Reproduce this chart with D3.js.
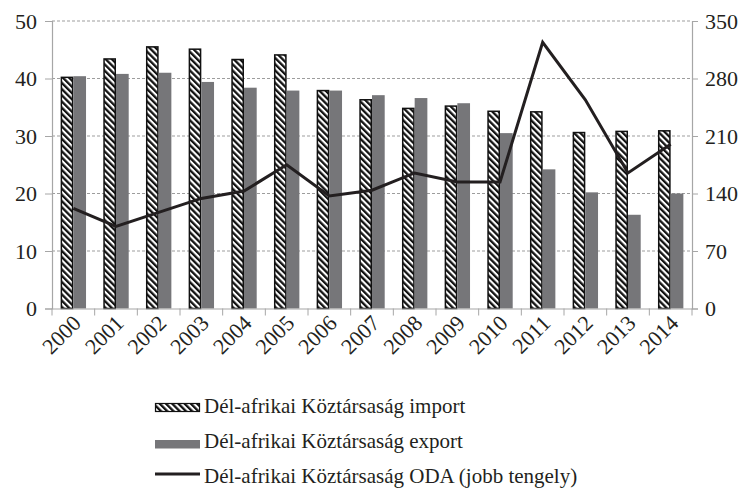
<!DOCTYPE html>
<html>
<head>
<meta charset="utf-8">
<script src="https://cdn.jsdelivr.net/npm/d3@7"></script>
<style>
  text { font-family: "Liberation Serif", Tinos, "Times New Roman", serif !important; }
</style>
</head>
<body style="margin:0">
<script>
var years = ["2000","2001","2002","2003","2004","2005","2006","2007","2008","2009","2010","2011","2012","2013","2014"];
var importVals = [40.2, 43.4, 45.5, 45.1, 43.3, 44.1, 37.9, 36.3, 34.8, 35.2, 34.3, 34.2, 30.6, 30.8, 30.9];
var exportVals = [40.4, 40.8, 41.0, 39.4, 38.4, 37.9, 37.9, 37.1, 36.6, 35.7, 30.5, 24.2, 20.2, 16.3, 20.0];
var odaVals = [122, 100, 117, 134, 143, 175, 137, 144, 165, 154, 154, 324, 254, 165, 200];
var leftTicks = [0, 10, 20, 30, 40, 50];
var rightTicks = [0, 70, 140, 210, 280, 350];
var legendLabels = ["Dél-afrikai Köztársaság import", "Dél-afrikai Köztársaság export", "Dél-afrikai Köztársaság ODA (jobb tengely)"];

var W = 745, H = 491;
var plotL = 52, plotR = 692, plotT = 21, plotB = 308.5;
var fontFam = "Liberation Serif, Tinos, Times New Roman, serif";
var ink = "#231f20";

var svg = d3.select("body").append("svg")
  .attr("width", W)
  .attr("height", H)
  .attr("font-family", fontFam);

// hatch pattern for import bars
var defs = svg.append("defs");
var pat = defs.append("pattern")
  .attr("id", "hatch")
  .attr("patternUnits", "userSpaceOnUse")
  .attr("width", 4.4)
  .attr("height", 4.4)
  .attr("patternTransform", "rotate(-45)");
pat.append("rect").attr("width", 4.4).attr("height", 4.4).attr("fill", "#fff");
pat.append("rect").attr("width", 2.3).attr("height", 4.4).attr("fill", "#111");

var x = d3.scaleBand().domain(years).range([plotL, plotR]).paddingInner(0).paddingOuter(0);
var xSub = d3.scaleBand().domain(["imp", "exp"]).range([0, x.bandwidth()]).paddingOuter(0.68).paddingInner(0);
var yL = d3.scaleLinear().domain([0, 50]).range([plotB, plotT]);
var yR = d3.scaleLinear().domain([0, 350]).range([plotB, plotT]);

// gridlines
svg.append("g").selectAll("line")
  .data(leftTicks.slice(1))
  .join("line")
  .attr("x1", plotL).attr("x2", plotR)
  .attr("y1", function (d) { return yL(d); })
  .attr("y2", function (d) { return yL(d); })
  .attr("stroke", "#9d9d9d")
  .attr("stroke-width", 1)
  .attr("stroke-dasharray", "3,2");

// bars
var groups = svg.append("g").selectAll("g")
  .data(years)
  .join("g")
  .attr("transform", function (d) { return "translate(" + x(d) + ",0)"; });

groups.append("rect")
  .attr("x", xSub("imp") + 0.75)
  .attr("width", xSub.bandwidth() - 1.5)
  .attr("y", function (d, i) { return yL(importVals[i]); })
  .attr("height", function (d, i) { return plotB - yL(importVals[i]); })
  .attr("fill", "url(#hatch)")
  .attr("stroke", "#111")
  .attr("stroke-width", 1.5);

groups.append("rect")
  .attr("x", xSub("exp"))
  .attr("width", xSub.bandwidth())
  .attr("y", function (d, i) { return yL(exportVals[i]); })
  .attr("height", function (d, i) { return plotB - yL(exportVals[i]); })
  .attr("fill", "#767679");

// axes
var axL = svg.append("g")
  .attr("transform", "translate(" + plotL + ",0)")
  .call(d3.axisLeft(yL).tickValues(leftTicks).tickSize(7).tickPadding(8));
var axR = svg.append("g")
  .attr("transform", "translate(" + plotR + ",0)")
  .call(d3.axisRight(yR).tickValues(rightTicks).tickSize(6).tickPadding(7));
var axX = svg.append("g")
  .attr("transform", "translate(0," + plotB + ")")
  .call(d3.axisBottom(x).tickSize(0).tickFormat(""));

// x category ticks at band boundaries
svg.append("g").selectAll("line")
  .data(years.concat(["end"]))
  .join("line")
  .attr("x1", function (d, i) { return plotL + i * x.step(); })
  .attr("x2", function (d, i) { return plotL + i * x.step(); })
  .attr("y1", plotB)
  .attr("y2", plotB + 7)
  .attr("stroke", "#a6a6a6");

[axL, axR, axX].forEach(function (a) {
  a.attr("font-family", fontFam).attr("font-size", 22);
  a.select(".domain").attr("stroke", "#a6a6a6").attr("stroke-width", 1.2);
  a.selectAll(".tick line").attr("stroke", "#a6a6a6");
  a.selectAll("text").attr("fill", ink);
});

// rotated year labels
svg.append("g").selectAll("text")
  .data(years)
  .join("text")
  .attr("transform", function (d) {
    return "translate(" + (x(d) + x.bandwidth() / 2 + 9) + "," + (plotB + 16) + ") rotate(-45)";
  })
  .attr("text-anchor", "end")
  .attr("fill", ink)
  .attr("font-size", 22)
  .text(function (d) { return d; });

// ODA line
var line = d3.line()
  .x(function (d, i) { return x(years[i]) + x.bandwidth() / 2; })
  .y(function (d) { return yR(d); });
svg.append("path")
  .datum(odaVals)
  .attr("d", line)
  .attr("fill", "none")
  .attr("stroke", ink)
  .attr("stroke-width", 3)
  .attr("stroke-linejoin", "miter");

// legend
var legY = [413, 448, 483];
var leg = svg.append("g").selectAll("g")
  .data(legendLabels)
  .join("g")
  .attr("transform", function (d, i) { return "translate(155," + legY[i] + ")"; });

leg.each(function (d, i) {
  var g = d3.select(this);
  if (i === 0) {
    g.append("rect").attr("x", 0.5).attr("y", -9.5).attr("width", 44).attr("height", 8)
      .attr("fill", "url(#hatch)").attr("stroke", "#111").attr("stroke-width", 1.2);
  } else if (i === 1) {
    g.append("rect").attr("x", 0).attr("y", -8).attr("width", 45).attr("height", 8.5)
      .attr("fill", "#767679");
  } else {
    g.append("line").attr("x1", 0).attr("x2", 45).attr("y1", -9).attr("y2", -9)
      .attr("stroke", ink).attr("stroke-width", 3);
  }
  g.append("text")
    .attr("x", 49)
    .attr("y", 0)
    .attr("fill", ink)
    .attr("font-size", 21)
    .text(d);
});
</script>
</body>
</html>
